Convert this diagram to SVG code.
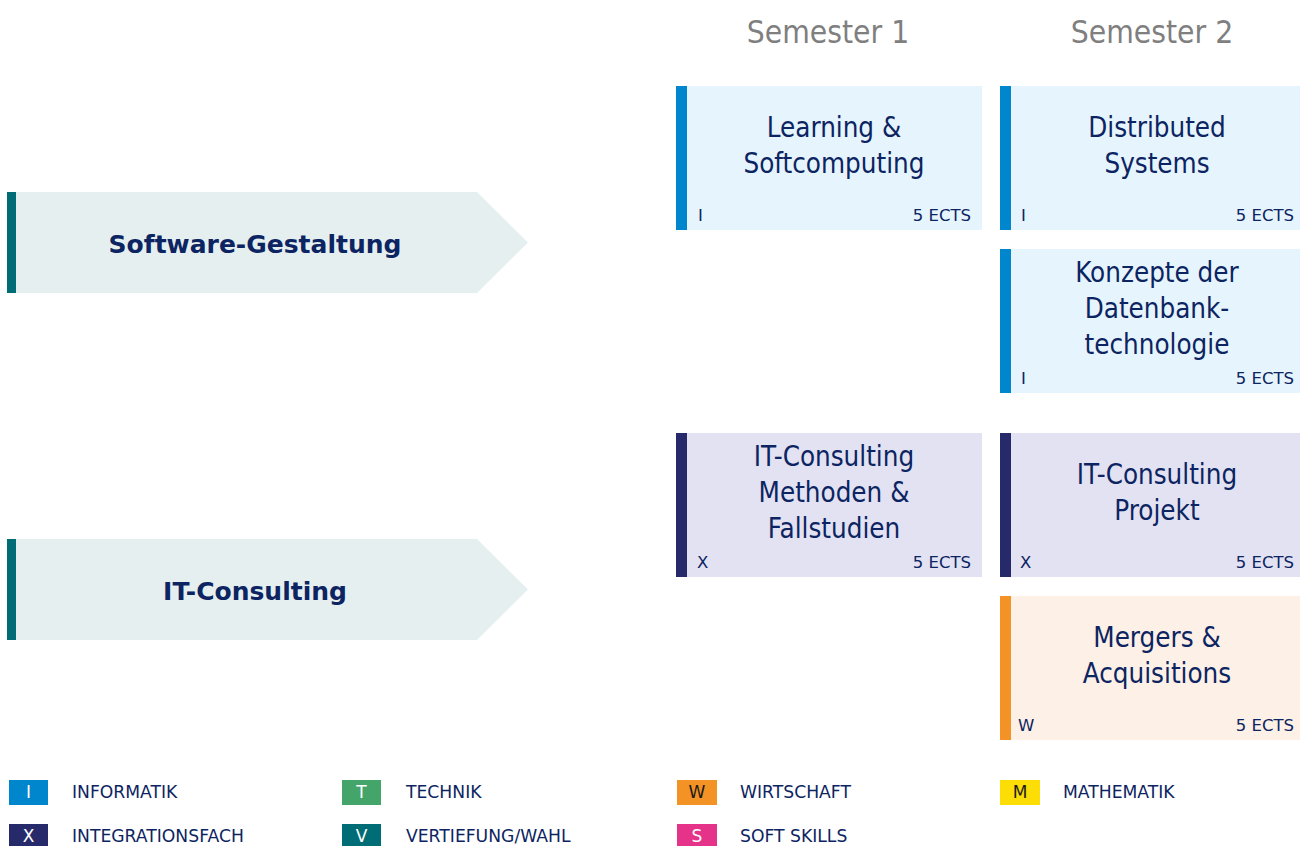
<svg xmlns="http://www.w3.org/2000/svg" width="1300" height="846" viewBox="0 0 1300 846">
<style>
text{font-family:"DejaVu Sans Condensed","Noto Sans","Liberation Sans",sans-serif;fill:#0C2461}
.hdr{font-size:31.5px;fill:#7F7F7F;text-anchor:middle}
.title{font-size:27.5px;text-anchor:middle}
.small{font-size:16.5px;font-family:"DejaVu Sans","Liberation Sans",sans-serif}
.ects{font-size:16.5px;text-anchor:end;font-family:"DejaVu Sans","Liberation Sans",sans-serif}
.track{font-size:25px;font-weight:bold;text-anchor:middle;font-family:"DejaVu Sans","Liberation Sans",sans-serif}
.leg{font-size:17.2px;font-family:"DejaVu Sans","Liberation Sans",sans-serif}
.legc{font-size:17px;text-anchor:middle;font-family:"DejaVu Sans","Liberation Sans",sans-serif}
.ci{fill:#E6F4FD}.bi{fill:#0086CC}
.cx{fill:#E2E2F3}.bx{fill:#262A6B}
.cw{fill:#FDF0E7}.bw{fill:#F39325}
.arr{fill:#E5EFF0}.bar{fill:#006C75}
</style>
<text class="hdr" x="828" y="43">Semester 1</text>
<text class="hdr" x="1152" y="43">Semester 2</text>

<g id="track-software">
<polygon class="arr" points="7,192 477,192 528,242.5 477,293 7,293"/>
<rect class="bar" x="7" y="192" width="9" height="101"/>
<text class="track" x="255" y="253">Software-Gestaltung</text>
</g>
<g id="track-itconsulting">
<polygon class="arr" points="7,539 477,539 528,589.5 477,640 7,640"/>
<rect class="bar" x="7" y="539" width="9" height="101"/>
<text class="track" x="255" y="600">IT-Consulting</text>
</g>

<g id="learning">
<rect class="ci" x="676" y="86" width="306" height="144"/>
<rect class="bi" x="676" y="86" width="11" height="144"/>
<text class="title" x="834" y="137">Learning &amp;</text>
<text class="title" x="834" y="173">Softcomputing</text>
<text class="small" x="698" y="221">I</text>
<text class="ects" x="971" y="221">5 ECTS</text>
</g>
<g id="distributed">
<rect class="ci" x="1000" y="86" width="300" height="144"/>
<rect class="bi" x="1000" y="86" width="11" height="144"/>
<text class="title" x="1157" y="137">Distributed</text>
<text class="title" x="1157" y="173">Systems</text>
<text class="small" x="1021" y="221">I</text>
<text class="ects" x="1294" y="221">5 ECTS</text>
</g>
<g id="konzepte">
<rect class="ci" x="1000" y="249" width="300" height="144"/>
<rect class="bi" x="1000" y="249" width="11" height="144"/>
<text class="title" x="1157" y="282">Konzepte der</text>
<text class="title" x="1157" y="318">Datenbank-</text>
<text class="title" x="1157" y="354">technologie</text>
<text class="small" x="1021" y="384">I</text>
<text class="ects" x="1294" y="384">5 ECTS</text>
</g>
<g id="itc-methoden">
<rect class="cx" x="676" y="433" width="306" height="144"/>
<rect class="bx" x="676" y="433" width="11" height="144"/>
<text class="title" x="834" y="466">IT-Consulting</text>
<text class="title" x="834" y="502">Methoden &amp;</text>
<text class="title" x="834" y="538">Fallstudien</text>
<text class="small" x="697" y="568">X</text>
<text class="ects" x="971" y="568">5 ECTS</text>
</g>
<g id="itc-projekt">
<rect class="cx" x="1000" y="433" width="300" height="144"/>
<rect class="bx" x="1000" y="433" width="11" height="144"/>
<text class="title" x="1157" y="484">IT-Consulting</text>
<text class="title" x="1157" y="520">Projekt</text>
<text class="small" x="1020" y="568">X</text>
<text class="ects" x="1294" y="568">5 ECTS</text>
</g>
<g id="mergers">
<rect class="cw" x="1000" y="596" width="300" height="144"/>
<rect class="bw" x="1000" y="596" width="11" height="144"/>
<text class="title" x="1157" y="647">Mergers &amp;</text>
<text class="title" x="1157" y="683">Acquisitions</text>
<text class="small" x="1018" y="731">W</text>
<text class="ects" x="1294" y="731">5 ECTS</text>
</g>

<g id="legend">
<rect x="9" y="780" width="39" height="25" fill="#0086CC"/>
<text class="legc" x="28.5" y="798" style="fill:#fff">I</text>
<text class="leg" x="72" y="798">INFORMATIK</text>
<rect x="342" y="780" width="39" height="25" fill="#44A56A"/>
<text class="legc" x="361.5" y="798" style="fill:#fff">T</text>
<text class="leg" x="406" y="798">TECHNIK</text>
<rect x="677" y="780" width="40" height="25" fill="#F39325"/>
<text class="legc" x="697" y="798" style="fill:#1a1a1a">W</text>
<text class="leg" x="740" y="798">WIRTSCHAFT</text>
<rect x="1000" y="780" width="40" height="25" fill="#FCDD05"/>
<text class="legc" x="1020" y="798" style="fill:#1a1a1a">M</text>
<text class="leg" x="1063" y="798">MATHEMATIK</text>
<rect x="9" y="824" width="39" height="22" fill="#262A6B"/>
<text class="legc" x="28.5" y="842" style="fill:#fff">X</text>
<text class="leg" x="72" y="842">INTEGRATIONSFACH</text>
<rect x="342" y="824" width="39" height="22" fill="#006C75"/>
<text class="legc" x="361.5" y="842" style="fill:#fff">V</text>
<text class="leg" x="406" y="842">VERTIEFUNG/WAHL</text>
<rect x="677" y="824" width="40" height="22" fill="#E6338A"/>
<text class="legc" x="697" y="842" style="fill:#fff">S</text>
<text class="leg" x="740" y="842">SOFT SKILLS</text>
</g>
</svg>
